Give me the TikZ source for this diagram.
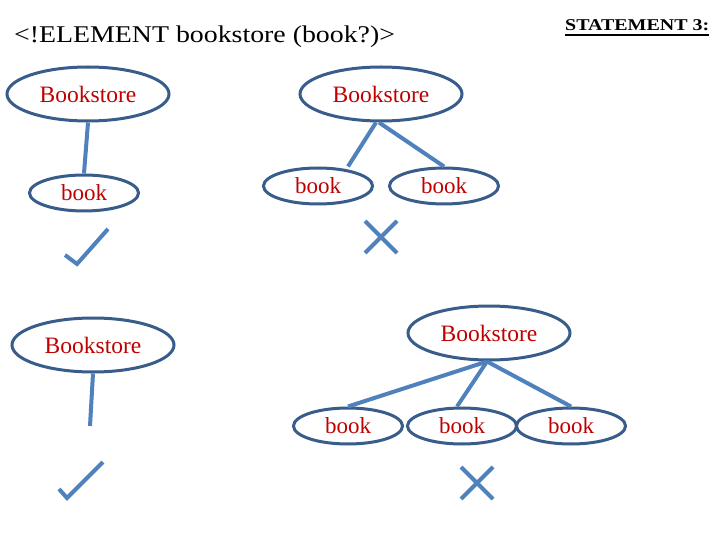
\documentclass[tikz,border=0pt]{standalone}
\usepackage{fontspec}
\setmainfont{Liberation Serif}
\usetikzlibrary{shapes.geometric,calc}
\definecolor{ellblue}{HTML}{385D8A}
\definecolor{lineblue}{HTML}{4F81BD}
\definecolor{txtred}{HTML}{C00000}
\tikzset{
  bigell/.style={ellipse,draw=ellblue,line width=3pt,fill=white,minimum width=162pt,minimum height=54pt,inner sep=0pt,text=txtred,font=\fontsize{23.5}{26}\selectfont},
  smallell/.style={ellipse,draw=ellblue,line width=3pt,fill=white,minimum width=109pt,minimum height=36pt,inner sep=0pt,text=txtred,font=\fontsize{23}{26}\selectfont},
  conn/.style={draw=lineblue,line width=4pt},
  signline/.style={draw=lineblue,line width=4pt}
}
\begin{document}
\begin{tikzpicture}[x=1pt,y=-1pt]
\useasboundingbox[fill=white] (0,0) rectangle (720,540);
% titles
\node[anchor=base west,inner sep=0pt,font=\fontsize{24}{28}\selectfont] (title) at (14,43) {\scalebox{1.16}[1]{<!ELEMENT bookstore (book?)>}};
\node[anchor=base west,inner sep=0pt,font=\fontsize{16.5}{19}\selectfont\bfseries] (stmt) at (565,31) {\scalebox{1.21}[1]{STATEMENT 3:}};
\draw[line width=1.6pt] ($(stmt.base west)+(0,4)$) -- ($(stmt.base east)+(0,4)$);
% top-left tree
\node[bigell] (A) at (88,94) {Bookstore};
\node[smallell] (B) at (84,193) {book};
\draw[conn] (A.south) -- (B.north);
\draw[signline] (65,255) -- (77,264) -- (108,229);
% top-center tree
\node[bigell] (C) at (381,94) {Bookstore};
\node[smallell] (D) at (318,186) {book};
\node[smallell] (E) at (444,186) {book};
\draw[conn] ($(C.south)+(-5,0)$) -- ($(D.north)+(30,0)$);
\draw[conn] ($(C.south)+(-2,0)$) -- (E.north);
\draw[signline] (365,221) -- (397,253);
\draw[signline] (365,253) -- (397,221);
% bottom-left tree
\node[bigell] (F) at (93,345) {Bookstore};
\coordinate (Fend) at (90,426);
\draw[conn] (F.south) -- (Fend);
\draw[signline] (59,489) -- (67,498) -- (103,462);
% bottom-right tree
\node[bigell] (G) at (489,333) {Bookstore};
\node[smallell] (H) at (348,426) {book};
\node[smallell] (I) at (462,426) {book};
\node[smallell] (J) at (571,426) {book};
\draw[conn] ($(G.south)+(-2,0)$) -- (H.north);
\draw[conn] ($(G.south)+(-2,0)$) -- ($(I.north)+(-5,0)$);
\draw[conn] ($(G.south)+(-2,0)$) -- (J.north);
\draw[signline] (461,467) -- (493,499);
\draw[signline] (461,499) -- (493,467);
\end{tikzpicture}
\end{document}
